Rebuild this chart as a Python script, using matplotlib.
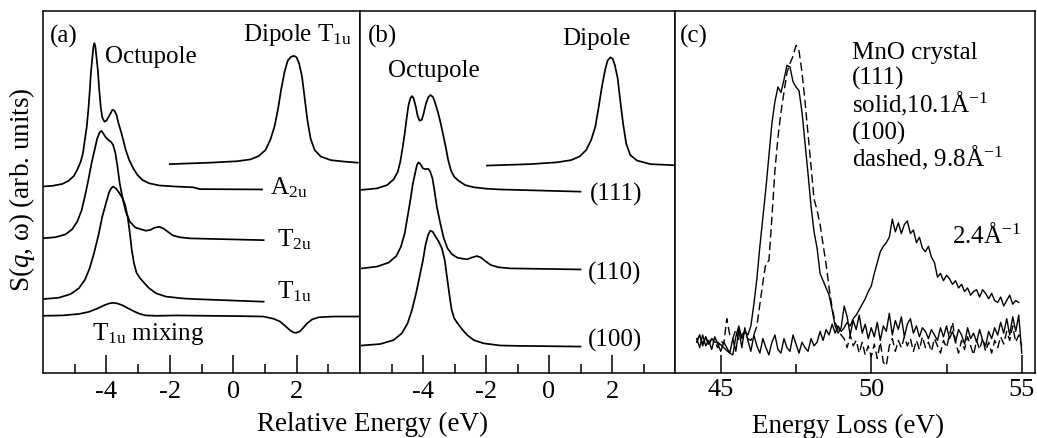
import matplotlib
matplotlib.use("Agg")
import matplotlib.pyplot as plt
from matplotlib.ticker import FixedLocator

plt.rcParams['font.family'] = ['Liberation Serif', 'DejaVu Serif']
plt.rcParams['mathtext.fontset'] = 'custom'
plt.rcParams['mathtext.rm'] = 'Liberation Serif'
plt.rcParams['mathtext.it'] = 'Liberation Serif:italic'
plt.rcParams['axes.unicode_minus'] = False

# ---------------- panel (a): calculated spectra ----------------
a_A2u_x = [-6.03, -5.71, -5.40, -5.19, -5.03, -4.92, -4.81, -4.74, -4.68, -4.62, -4.57, -4.53,
           -4.49, -4.44, -4.41, -4.38, -4.35, -4.32, -4.27, -4.23, -4.18, -4.13, -4.06, -4.00,
           -3.94, -3.87, -3.81, -3.75, -3.68, -3.62, -3.54, -3.47, -3.39, -3.28, -3.15, -3.02,
           -2.86, -2.65, -2.33, -1.80, -1.27, -1.05, 0.91]
a_A2u_y = [5.15, 5.17, 5.22, 5.31, 5.44, 5.61, 5.84, 6.07, 6.44, 6.80, 7.27, 7.73,
           8.28, 8.74, 9.01, 9.11, 9.03, 8.78, 8.37, 7.86, 7.36, 7.06, 6.94, 6.97,
           7.06, 7.17, 7.27, 7.25, 7.13, 6.90, 6.67, 6.44, 6.16, 5.88, 5.65, 5.47,
           5.33, 5.24, 5.18, 5.15, 5.13, 5.08, 5.07]

a_T2u_x = [-6.03, -5.61, -5.29, -5.08, -4.92, -4.78, -4.68, -4.57, -4.47, -4.36, -4.29, -4.21,
           -4.16, -4.10, -4.02, -3.94, -3.85, -3.79, -3.72, -3.65, -3.58, -3.49, -3.39, -3.26,
           -3.09, -2.91, -2.75, -2.62, -2.49, -2.33, -2.20, -2.06, -1.90, -1.69, -1.38, -0.95, 0.96]
a_T2u_y = [3.72, 3.75, 3.83, 3.97, 4.18, 4.50, 4.87, 5.33, 5.79, 6.21, 6.48, 6.65,
           6.69, 6.62, 6.51, 6.44, 6.38, 6.30, 6.09, 5.70, 5.24, 4.83, 4.46, 4.18,
           4.02, 3.97, 3.93, 3.95, 4.01, 4.04, 3.99, 3.90, 3.80, 3.75, 3.72, 3.71, 3.67]

a_T1u_x = [-6.03, -5.50, -5.13, -4.87, -4.68, -4.53, -4.39, -4.25, -4.13, -4.00, -3.92, -3.85,
           -3.79, -3.70, -3.60, -3.49, -3.41, -3.33, -3.26, -3.20, -3.13, -3.05, -2.94, -2.80,
           -2.65, -2.43, -2.12, -1.59, -1.16, 0.96]
a_T1u_y = [2.04, 2.08, 2.18, 2.34, 2.57, 2.89, 3.31, 3.81, 4.32, 4.73, 4.98, 5.10,
           5.15, 5.10, 4.98, 4.83, 4.64, 4.32, 3.86, 3.40, 3.03, 2.77, 2.62, 2.48,
           2.34, 2.20, 2.11, 2.06, 2.04, 1.97]

a_mix_x = [-6.03, -5.40, -4.87, -4.55, -4.29, -4.07, -3.92, -3.79, -3.65, -3.49, -3.30, -3.12,
           -2.94, -2.75, -2.43, -1.80, -0.74, 0.32, 0.95, 1.27, 1.48, 1.64, 1.78, 1.90,
           1.99, 2.10, 2.20, 2.33, 2.49, 2.70, 3.17, 4.02]
a_mix_y = [1.58, 1.59, 1.63, 1.69, 1.78, 1.87, 1.92, 1.94, 1.92, 1.87, 1.78, 1.70,
           1.63, 1.59, 1.58, 1.59, 1.58, 1.57, 1.56, 1.50, 1.42, 1.30, 1.19, 1.12,
           1.11, 1.15, 1.24, 1.37, 1.48, 1.54, 1.56, 1.56]

a_dip_x = [-2.00, -0.73, 0.12, 0.54, 0.80, 1.02, 1.17, 1.30, 1.41, 1.51, 1.62, 1.72,
           1.83, 1.92, 2.00, 2.08, 2.17, 2.25, 2.34, 2.44, 2.57, 2.76, 3.08, 3.50, 3.93]
a_dip_y = [5.77, 5.81, 5.85, 5.90, 5.99, 6.16, 6.44, 6.80, 7.27, 7.82, 8.32, 8.63,
           8.74, 8.76, 8.72, 8.55, 8.19, 7.63, 6.99, 6.48, 6.16, 5.98, 5.88, 5.84, 5.81]

# ---------------- panel (b): calculated, by direction ----------------
b_111_x = [-5.94, -5.46, -5.14, -4.93, -4.80, -4.72, -4.65, -4.58, -4.52, -4.46, -4.40, -4.35,
           -4.30, -4.23, -4.17, -4.11, -4.04, -3.98, -3.91, -3.83, -3.76, -3.68, -3.61, -3.53,
           -3.45, -3.37, -3.28, -3.20, -3.11, -3.01, -2.87, -2.66, -2.39, -1.97, -1.55, 1.0]
b_111_y = [5.06, 5.10, 5.19, 5.35, 5.56, 5.84, 6.21, 6.62, 7.03, 7.40, 7.59, 7.65,
           7.59, 7.36, 7.10, 6.97, 6.99, 7.17, 7.43, 7.62, 7.68, 7.62, 7.45, 7.22,
           6.94, 6.62, 6.25, 5.88, 5.59, 5.42, 5.31, 5.19, 5.13, 5.09, 5.07, 5.01]

b_110_x = [-5.94, -5.46, -5.09, -4.85, -4.70, -4.58, -4.49, -4.40, -4.32, -4.24, -4.19, -4.14,
           -4.08, -4.00, -3.92, -3.83, -3.77, -3.70, -3.64, -3.56, -3.45, -3.34, -3.22, -3.08,
           -2.92, -2.76, -2.60, -2.45, -2.29, -2.16, -2.02, -1.84, -1.60, -1.23, 1.0]
b_110_y = [2.89, 2.94, 3.05, 3.23, 3.49, 3.86, 4.32, 4.78, 5.24, 5.56, 5.75, 5.82,
           5.77, 5.65, 5.63, 5.64, 5.56, 5.38, 5.06, 4.59, 4.13, 3.72, 3.44, 3.28,
           3.19, 3.16, 3.14, 3.19, 3.23, 3.19, 3.09, 2.98, 2.92, 2.89, 2.86]

b_100_x = [-5.94, -5.36, -4.93, -4.67, -4.49, -4.35, -4.22, -4.11, -4.00, -3.92, -3.84, -3.77,
           -3.69, -3.61, -3.50, -3.40, -3.31, -3.24, -3.16, -3.09, -3.01, -2.90, -2.76, -2.60,
           -2.39, -2.08, -1.55, -1.02, 1.0]
b_100_y = [0.76, 0.80, 0.91, 1.10, 1.37, 1.74, 2.20, 2.66, 3.12, 3.54, 3.81, 3.93,
           3.90, 3.78, 3.63, 3.44, 3.12, 2.66, 2.15, 1.74, 1.51, 1.37, 1.21, 1.05,
           0.91, 0.82, 0.76, 0.75, 0.73]

b_dip_x = [-1.97, -0.59, 0.25, 0.70, 0.97, 1.18, 1.34, 1.47, 1.58, 1.68, 1.78, 1.86,
           1.95, 2.02, 2.09, 2.18, 2.26, 2.35, 2.45, 2.58, 2.79, 3.22, 3.96]
b_dip_y = [5.73, 5.77, 5.82, 5.88, 5.98, 6.16, 6.44, 6.80, 7.36, 7.91, 8.37, 8.63,
           8.72, 8.68, 8.51, 8.14, 7.54, 6.90, 6.34, 6.02, 5.87, 5.77, 5.74]

# ---------------- panel (c): MnO crystal, measured ----------------
c_x = [round(44.2 + 0.1 * i, 1) for i in range(109)]
c_111 = [0.85, 1.05, 0.75, 1.00, 0.80, 0.95, 0.85, 0.85, 0.78, 0.70,
         0.62, 0.55, 0.50, 1.00, 1.30, 0.95, 1.15, 1.05, 1.30,
         1.90, 2.60, 3.50, 4.30, 5.10, 6.00, 6.90, 7.50, 7.90, 7.75,
         8.10, 8.50, 8.45, 8.05, 7.90, 7.80, 7.20, 6.35, 5.50, 4.60,
         3.90, 3.45, 2.75, 2.55, 2.35, 2.15, 1.75, 1.30, 1.10, 1.25, 1.85,
         1.55, 1.05, 1.45, 1.20, 1.60, 1.10, 1.35, 0.95, 1.25, 1.00,
         1.40, 0.90, 1.30, 1.15, 1.65, 1.05, 1.45, 1.20, 1.55, 1.00,
         1.35, 1.50, 1.10, 1.30, 1.00, 1.25, 1.15, 0.95, 1.20, 1.05,
         0.90, 1.25, 1.00, 1.30, 0.95, 1.15, 0.85, 1.20, 1.05, 0.80,
         1.25, 0.95, 1.10, 0.85, 1.20, 0.90, 0.75, 1.15, 0.95, 1.25,
         1.05, 1.40, 1.10, 1.50, 1.05, 1.55, 1.15, 1.60, 0.55]
c_100 = [0.85, 1.05, 0.80, 1.00, 0.75, 0.95, 0.85, 0.70, 0.90, 0.80,
         1.50, 1.05, 0.95, 1.20, 0.90, 1.05, 1.15, 0.95, 0.90, 1.05,
         1.30, 1.90, 2.50, 3.05, 3.10, 4.30, 5.60, 6.50, 7.20, 7.75,
         8.30, 8.55, 8.75, 9.05, 8.90, 8.30, 7.50, 6.60, 5.70, 4.80,
         4.50, 4.10, 3.55, 3.00, 2.35, 1.80, 1.40, 1.20, 1.05,
         0.95, 0.70, 1.05, 0.75, 0.90, 0.55, 0.85, 0.50, 0.75, 0.45,
         0.80, 0.40, 0.85, 0.30, 0.20, 0.75, 0.95, 0.60, 0.90, 0.70,
         1.00, 0.75, 0.95, 0.60, 0.90, 0.65, 1.00, 0.70, 0.85, 0.60,
         0.95, 0.75, 0.55, 0.90, 0.70, 1.05, 1.40, 0.85, 0.55, 0.90,
         0.65, 1.00, 0.75, 0.50, 0.90, 0.65, 0.95, 0.60, 0.85, 0.55,
         0.90, 0.70, 1.00, 0.80, 1.15, 0.90, 1.30, 0.85, 1.05, 0.75]
c_24 = [0.95, 0.70, 1.05, 0.75, 0.90, 0.65, 1.00, 0.80, 0.60, 0.85,
        0.70, 0.55, 0.95, 0.60, 1.20,
        0.70, 1.25, 0.90, 0.60, 1.05, 0.75, 0.55, 0.95, 0.70, 0.50,
        0.85, 1.05, 0.65, 0.55, 0.95, 0.70, 0.60, 1.05, 0.80, 0.55,
        0.85, 0.70, 0.60, 0.95, 0.75, 0.85, 1.15, 0.90, 1.20, 1.05,
        1.35, 1.10, 1.30, 1.15,
        1.25, 1.40, 1.30, 1.50, 1.60, 1.75, 1.90, 2.05, 2.25, 2.40,
        2.75, 3.05, 3.35, 3.50, 3.60, 3.75, 4.25, 3.90, 4.15, 3.85,
        4.10, 4.20, 3.85, 3.95, 3.60, 3.75, 3.45, 3.35, 3.50, 3.20,
        3.05, 2.65, 2.75, 2.55, 2.70, 2.60, 2.45, 2.55, 2.35, 2.45,
        2.25, 2.35, 2.15, 2.25, 2.30, 2.10, 2.30, 2.20, 2.05, 2.20,
        2.00, 1.95, 2.10, 1.85, 2.00, 2.15, 1.90, 2.00, 1.95]

W, H = 1037, 438
fig = plt.figure(figsize=(W / 100, H / 100), dpi=100)

def px_axes(x0, x1, y0=11, y1=373):
    return fig.add_axes([x0 / W, 1 - y1 / H, (x1 - x0) / W, (y1 - y0) / H])

ax_a = px_axes(43, 360)
ax_b = px_axes(360, 675)
ax_c = px_axes(675, 1035)

LW = 1.25
for xs, ys in [(a_A2u_x, a_A2u_y), (a_T2u_x, a_T2u_y), (a_T1u_x, a_T1u_y),
               (a_mix_x, a_mix_y), (a_dip_x, a_dip_y)]:
    ax_a.plot(xs, ys, 'k-', lw=LW, solid_joinstyle='round')
for xs, ys in [(b_111_x, b_111_y), (b_110_x, b_110_y), (b_100_x, b_100_y),
               (b_dip_x, b_dip_y)]:
    ax_b.plot(xs, ys, 'k-', lw=LW, solid_joinstyle='round')

ax_c.plot(c_x[:len(c_111)], c_111, 'k-', lw=1.0)
ax_c.plot(c_x[:len(c_100)], c_100, 'k', lw=1.0, linestyle=(0, (6, 3)))
ax_c.plot(c_x[:len(c_24)], c_24, 'k-', lw=1.0)

for ax in (ax_a, ax_b):
    ax.set_xlim(-6.0, 4.0)
    ax.xaxis.set_major_locator(FixedLocator([-4, -2, 0, 2]))
    ax.xaxis.set_minor_locator(FixedLocator([-5, -3, -1, 1, 3]))
ax_c.set_xlim(43.48, 55.44)
ax_c.xaxis.set_major_locator(FixedLocator([45, 50, 55]))
ax_c.xaxis.set_minor_locator(FixedLocator([47.5, 52.5]))

for ax in (ax_a, ax_b, ax_c):
    ax.set_ylim(0, 10)
    ax.set_yticks([])
    for s in ax.spines.values():
        s.set_linewidth(1.1)
    ax.tick_params(axis='x', which='major', direction='in', length=13, width=1.1,
                   labelsize=19, pad=6)
    ax.tick_params(axis='x', which='minor', direction='in', length=6.5, width=1.1)
ax_c.tick_params(axis='x', which='major', pad=4)

def ftext(px, py, s, size=18, **kw):
    fig.text(px / W, 1 - py / H, s, fontsize=size, va='baseline', ha='left', **kw)

# panel (a) labels
ftext(50, 42.5, '(a)')
ftext(105, 63.5, 'Octupole')
ftext(243, 41, r'Dipole T$_{\mathrm{1u}}$')
ftext(270, 194, r'A$_{\mathrm{2u}}$')
ftext(277, 246, r'T$_{\mathrm{2u}}$')
ftext(277, 298, r'T$_{\mathrm{1u}}$')
ftext(92, 340, r'T$_{\mathrm{1u}}$ mixing')
# panel (b) labels
ftext(368, 42.5, '(b)')
ftext(562, 45, 'Dipole')
ftext(388, 77, 'Octupole')
ftext(590, 201, '(111)')
ftext(588, 280, '(110)')
ftext(588, 347, '(100)')
# panel (c) labels
ftext(680, 42.5, '(c)')
ftext(852, 58.5, 'MnO crystal')
ftext(852, 85, '(111)')
ftext(852, 112.5, r'solid,10.1Å$^{\mathrm{-1}}$')
ftext(852, 140, '(100)')
ftext(852, 166.5, r'dashed, 9.8Å$^{\mathrm{-1}}$')
ftext(952, 243, r'2.4Å$^{\mathrm{-1}}$')

# axis titles
ftext(257, 431, 'Relative Energy (eV)', size=19.5)
ftext(752, 433, 'Energy Loss (eV)', size=19.5)
fig.text(22 / W, 1 - 190 / H, r'S($q$, ω) (arb. units)', fontsize=19.5,
         rotation=90, ha='center', va='center')

fig.savefig('out.png', dpi=100)
